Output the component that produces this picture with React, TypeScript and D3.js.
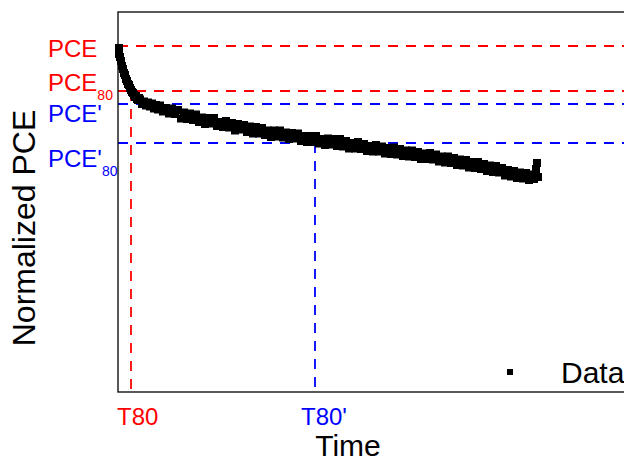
import React from "react";
import * as d3 from "d3";

// Measured data (time in arbitrary units, normalized PCE in %)
const time = [
  0.2, 0.2, 0.4, 0.6, 0.8, 1.0, 1.2, 1.4, 1.6, 1.8, 2.0, 2.2, 2.4, 2.6, 2.8, 3.0, 3.2, 3.4, 3.6, 3.8,
  4.0, 4.2, 4.4, 4.8, 5.2, 5.6, 6.0, 6.4, 6.8, 7.2, 7.6, 8.0, 8.4, 9.0, 9.6, 10.2, 10.8, 11.4, 12.0, 12.6,
  13.2, 13.8, 14.4, 15.0, 15.6, 16.2, 16.8, 17.4, 18.0, 18.6, 19.2, 19.8, 20.4, 21.0, 21.6, 22.2, 22.8, 23.4, 24.0, 24.6,
  25.2, 25.8, 26.4, 27.0, 27.6, 28.2, 28.8, 29.4, 30.0, 30.6, 31.2, 31.8, 32.4, 33.0, 33.6, 34.2, 34.8, 35.4, 36.0, 36.6,
  37.2, 37.8, 38.4, 39.0, 39.6, 40.2, 40.8, 41.4, 42.0, 42.6, 43.2, 43.8, 44.4, 45.0, 45.6, 46.2, 46.8, 47.4, 48.0, 48.6,
  49.2, 49.8, 50.4, 51.0, 51.6, 52.2, 52.8, 53.4, 54.0, 54.6, 55.2, 55.8, 56.4, 57.0, 57.6, 58.2, 58.8, 59.4, 60.0, 60.6,
  61.2, 61.8, 62.4, 63.0, 63.6, 64.2, 64.8, 65.4, 66.0, 66.6, 67.2, 67.8, 68.4, 69.0, 69.6, 70.2, 70.8, 71.4, 72.0, 72.6,
  73.2, 73.8, 74.4, 75.0, 75.6, 76.2, 76.8, 77.4, 78.0, 78.6, 79.2, 79.8, 80.4, 81.0, 81.6, 82.2, 82.8, 83.2, 83.6, 83.8,
  84.0,
];
const pce = [
  99.6, 98.4, 97.8, 97.0, 96.0, 95.4, 94.6, 94.2, 93.4, 93.0, 92.4, 92.2, 91.6, 91.2, 90.8, 90.6, 90.2, 89.8, 90.0, 89.4,
  89.2, 89.6,
  89.3, 88.4, 88.9, 88.1, 88.7, 87.9, 88.5, 87.5, 88.2, 87.3, 88.1,
  86.9, 87.6, 86.5, 87.5, 86.4, 87.2, 85.5, 86.7, 85.4, 86.5,
  85.2, 86.3, 84.8, 85.7, 84.4, 85.6, 84.5, 85.6, 84.0, 84.8,
  83.8, 85.0, 83.7, 84.6, 83.1, 84.4, 83.3, 84.2, 82.8, 83.9,
  82.5, 83.8, 82.5, 83.6, 82.2, 83.1, 81.8, 83.1, 81.9, 83.1,
  81.7, 82.7, 81.4, 82.6, 81.5, 82.5, 81.0, 82.0, 80.8, 82.0,
  80.8, 82.0, 80.5, 81.4, 80.2, 81.5, 80.3, 81.4, 80.0, 81.4,
  79.9, 81.0, 79.5, 80.6, 79.5, 80.8, 79.4, 80.4, 79.0, 80.0,
  78.9, 80.2, 78.9, 79.9, 78.5, 79.6, 78.4, 79.7, 78.3, 79.4,
  78.0, 79.1, 77.9, 79.1, 77.8, 78.8, 77.4, 78.5, 77.4, 78.6,
  77.3, 78.3, 76.9, 77.9, 76.7, 77.9, 76.6, 77.6, 76.2, 77.3,
  76.1, 77.2, 75.7, 76.8, 75.6, 76.8, 75.4, 76.4, 75.0, 76.1,
  74.8, 76.0, 74.7, 75.6, 74.1, 75.2, 73.9, 75.0, 73.6, 74.7,
  73.5, 74.6, 73.2, 74.3,
  73.4, 75.4, 76.6, 73.8,
];

// Reference levels
const levelNames = ["PCE", "PCE", "PCE'", "PCE'"];
const levelSubs = ["", "80", "", "80"];
const levelValues = [100, 91.0, 88.4, 80.6];
const levelColors = ["#ff0000", "#ff0000", "#0000ff", "#0000ff"];
const levelLabelDy = [11, 0, 18, 24];

const tNames = ["T80", "T80'"];
const tValues = [2.6, 39.4];
const tLevelIndex = [1, 3];
const tColors = ["#ff0000", "#0000ff"];

const W = 624;
const H = 463;
const FONT = "'Liberation Sans', Arial, Helvetica, sans-serif";

export default function App() {
  const x = d3.scaleLinear().domain([0, 104]).range([118, 638]);
  const y = d3.scaleLinear().domain([30.8, 106.8]).range([392, 12]);
  const ms = 8;
  const dash = "10,8";

  return (
    <svg
      width={W}
      height={H}
      viewBox={`0 0 ${W} ${H}`}
      style={{ position: "absolute", left: 0, top: 0, background: "#fff" }}
      fontFamily={FONT}
    >
      <rect x={0} y={0} width={W} height={H} fill="#fff" />
      {/* reference lines */}
      {levelValues.map((v, i) => (
        <line
          key={"h" + i}
          x1={x(0)}
          x2={x(104)}
          y1={y(v)}
          y2={y(v)}
          stroke={levelColors[i]}
          strokeWidth={1.8}
          strokeDasharray={dash}
        />
      ))}
      {tValues.map((t, i) => (
        <line
          key={"v" + i}
          x1={x(t)}
          x2={x(t)}
          y1={y(levelValues[tLevelIndex[i]])}
          y2={y(30.8)}
          stroke={tColors[i]}
          strokeWidth={1.8}
          strokeDasharray={dash}
        />
      ))}
      {/* data */}
      <g fill="#000">
        {time.map((t, i) => (
          <rect key={i} x={x(t) - ms / 2} y={y(pce[i]) - ms / 2} width={ms} height={ms} />
        ))}
      </g>
      {/* axes box */}
      <rect
        x={x(0)}
        y={y(106.8)}
        width={x(104) - x(0)}
        height={y(30.8) - y(106.8)}
        fill="none"
        stroke="#000"
        strokeWidth={1.3}
      />
      {/* level labels */}
      {levelValues.map((v, i) => (
        <text key={"l" + i} x={48} y={y(v) + levelLabelDy[i]} fill={levelColors[i]} fontSize={24}>
          {levelNames[i]}
          {levelSubs[i] ? (
            <tspan fontSize={14} dy={9}>
              {levelSubs[i]}
            </tspan>
          ) : null}
        </text>
      ))}
      {/* time labels */}
      {tValues.map((t, i) => (
        <text key={"t" + i} x={x(t) - 14} y={425} fill={tColors[i]} fontSize={24}>
          {tNames[i]}
        </text>
      ))}
      {/* axis titles */}
      <text x={348} y={456} textAnchor="middle" fontSize={30} fill="#000">
        Time
      </text>
      <text
        transform={`translate(35,228) rotate(-90)`}
        textAnchor="middle"
        fontSize={32}
        fill="#000"
      >
        Normalized PCE
      </text>
      {/* legend */}
      <rect x={507} y={369} width={6} height={6} fill="#000" />
      <text x={561} y={383} fontSize={30} fill="#000">
        Data
      </text>
    </svg>
  );
}
